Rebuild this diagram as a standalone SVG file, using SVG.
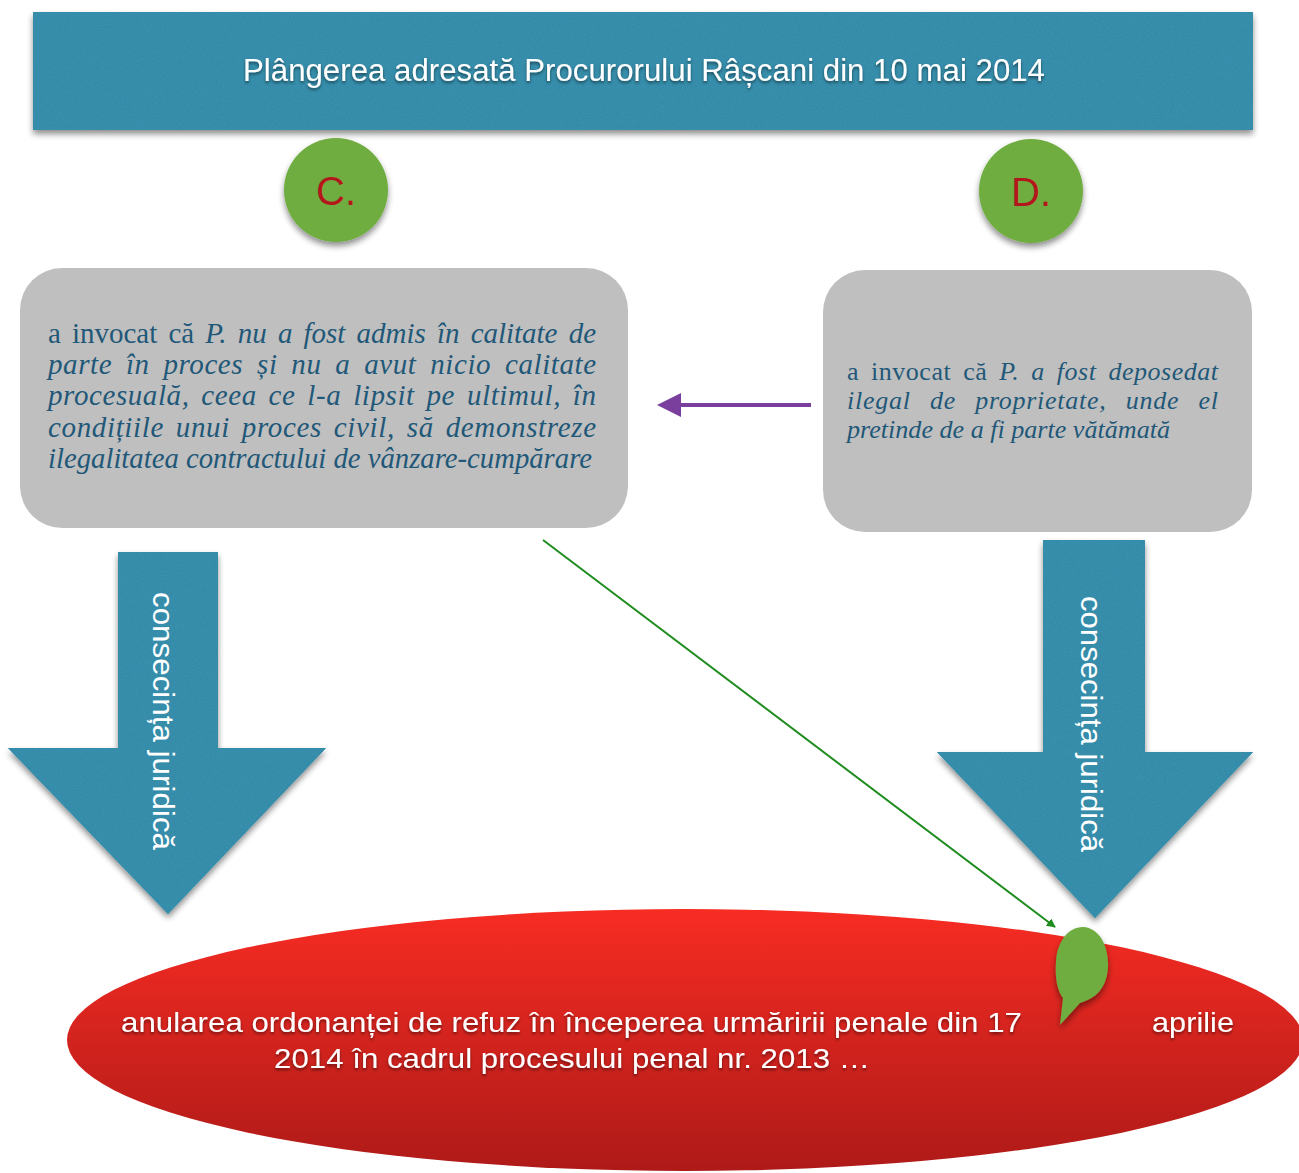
<svg xmlns="http://www.w3.org/2000/svg" width="1299" height="1173" viewBox="0 0 1299 1173">
<style>
.teal{fill:#3b95b4}
.box{fill:#bfbfbf}
.btxt{font-family:"Liberation Serif",serif;fill:#1f5878}
.it{font-style:italic}
.wt{font-family:"Liberation Sans",Arial,sans-serif;fill:#ffffff}
.circ{fill:#70ad40}
.lbl{font-family:"Liberation Sans",Arial,sans-serif;font-size:40px;fill:#b3171b;text-anchor:middle}
</style>
<defs>
<filter id="tex" x="-5%" y="-5%" width="110%" height="110%">
<feTurbulence type="fractalNoise" baseFrequency="0.9" numOctaves="2" seed="3" result="n"/>
<feColorMatrix in="n" type="matrix" values="0 0 0 0 0  0 0 0 0 0  0 0 0 0 0  0 0 0 0.22 0" result="nn"/>
<feComposite in="nn" in2="SourceGraphic" operator="in" result="nc"/>
<feMerge><feMergeNode in="SourceGraphic"/><feMergeNode in="nc"/></feMerge>
</filter>
<filter id="sh" x="-10%" y="-10%" width="120%" height="130%">
<feGaussianBlur in="SourceAlpha" stdDeviation="3"/>
<feOffset dx="0" dy="4" result="b"/>
<feComponentTransfer><feFuncA type="linear" slope="0.45"/></feComponentTransfer>
<feMerge><feMergeNode/><feMergeNode in="SourceGraphic"/></feMerge>
</filter>
<filter id="tsh" x="-5%" y="-20%" width="110%" height="150%">
<feGaussianBlur in="SourceAlpha" stdDeviation="1.5"/>
<feOffset dx="0" dy="2"/>
<feComponentTransfer><feFuncA type="linear" slope="0.5"/></feComponentTransfer>
<feMerge><feMergeNode/><feMergeNode in="SourceGraphic"/></feMerge>
</filter>
<linearGradient id="red" x1="0" y1="0" x2="0" y2="1">
<stop offset="0" stop-color="#f72c23"/>
<stop offset="1" stop-color="#ae1a18"/>
</linearGradient>
<marker id="ga" viewBox="0 0 10 10" refX="9" refY="5" markerWidth="9" markerHeight="9" markerUnits="userSpaceOnUse" orient="auto">
<path d="M0,0 L10,5 L0,10 z" fill="#1e8c1e"/>
</marker>
</defs>
<rect width="1299" height="1173" fill="#ffffff"/>

<g id="banner">
<rect x="33" y="12" width="1220" height="118" class="teal" filter="url(#sh)"/>
<rect x="33" y="12" width="1220" height="118" class="teal" filter="url(#tex)"/>
<text x="243" y="81" class="wt" font-size="31" textLength="802" lengthAdjust="spacingAndGlyphs" filter="url(#tsh)">Plângerea adresată Procurorului Râșcani din 10 mai 2014</text>
</g>

<g id="circleC">
<circle cx="336" cy="190" r="52" class="circ" filter="url(#sh)"/>
<text x="336" y="205" class="lbl">C.</text>
</g>

<g id="circleD">
<circle cx="1031" cy="191" r="52" class="circ" filter="url(#sh)"/>
<text x="1031" y="206" class="lbl">D.</text>
</g>

<g id="boxC">
<rect x="20" y="268" width="608" height="260" rx="42" class="box"/>
<text class="btxt" font-size="29" x="48" y="343" textLength="548" lengthAdjust="spacing" word-spacing="4">a invocat că <tspan class="it">P. nu a fost admis în calitate de</tspan></text>
<text class="btxt it" font-size="29" x="48" y="374" textLength="548" lengthAdjust="spacing" word-spacing="6">parte în proces și nu a avut nicio calitate</text>
<text class="btxt it" font-size="29" x="48" y="405" textLength="548" lengthAdjust="spacing" word-spacing="4">procesuală, ceea ce l-a lipsit pe ultimul, în</text>
<text class="btxt it" font-size="29" x="48" y="437" textLength="548" lengthAdjust="spacing" word-spacing="4">condițiile unui proces civil, să demonstreze</text>
<text class="btxt it" font-size="29" x="48" y="468" textLength="544" lengthAdjust="spacingAndGlyphs">ilegalitatea contractului de vânzare-cumpărare</text>
</g>

<g id="boxD">
<rect x="823" y="270" width="429" height="262" rx="42" class="box"/>
<text class="btxt" font-size="26" x="847" y="380" textLength="371" lengthAdjust="spacing" word-spacing="5">a invocat că <tspan class="it">P. a fost deposedat</tspan></text>
<text class="btxt it" font-size="26" x="847" y="409" textLength="371" lengthAdjust="spacing" word-spacing="12">ilegal de proprietate, unde el</text>
<text class="btxt it" font-size="26" x="847" y="438" textLength="323" lengthAdjust="spacingAndGlyphs">pretinde de a fi parte vătămată</text>
</g>

<g id="arrowC">
<path d="M118,552 L218,552 L218,748 L326,748 L168,914 L8,748 L118,748 Z" class="teal" filter="url(#sh)"/>
<path d="M118,552 L218,552 L218,748 L326,748 L168,914 L8,748 L118,748 Z" class="teal" filter="url(#tex)"/>
<text class="wt" font-size="30" text-anchor="middle" dominant-baseline="central" textLength="258" lengthAdjust="spacingAndGlyphs" transform="translate(163,721) rotate(90)">consecința juridică</text>
</g>

<g id="arrowD">
<path d="M1043,540 L1145,540 L1145,752 L1253,752 L1095,918 L937,752 L1043,752 Z" class="teal" filter="url(#sh)"/>
<path d="M1043,540 L1145,540 L1145,752 L1253,752 L1095,918 L937,752 L1043,752 Z" class="teal" filter="url(#tex)"/>
<text class="wt" font-size="30" text-anchor="middle" dominant-baseline="central" textLength="256" lengthAdjust="spacingAndGlyphs" transform="translate(1091,724) rotate(90)">consecința juridică</text>
</g>

<g id="result">
<ellipse cx="685" cy="1040" rx="618" ry="131" fill="url(#red)"/>
<text class="wt" font-size="28" filter="url(#tsh)"><tspan x="121" y="1032" textLength="901" lengthAdjust="spacingAndGlyphs">anularea ordonanței de refuz în începerea urmăririi penale din 17</tspan><tspan x="1152" y="1032" textLength="82" lengthAdjust="spacingAndGlyphs">aprilie</tspan></text>
<text class="wt" font-size="28" x="274" y="1068" textLength="596" lengthAdjust="spacingAndGlyphs" filter="url(#tsh)">2014 în cadrul procesului penal nr. 2013 …</text>
</g>

<g id="bubble">
<path d="M1083,927 C1100,928 1109,947 1108,967 C1107,987 1097,998 1080,1003 L1060,1025 L1063,998 C1057,990 1055,978 1056,962 C1057,942 1068,927 1083,927 Z" class="circ" filter="url(#sh)"/>
</g>

<g id="connectors">
<line x1="811" y1="405" x2="680" y2="405" stroke="#7a3f9d" stroke-width="4"/>
<path d="M657,405 L681,393 L681,417 Z" fill="#7a3f9d"/>
<line x1="543" y1="540" x2="1055" y2="927" stroke="#1e8c1e" stroke-width="2" marker-end="url(#ga)"/>
</g>
</svg>
